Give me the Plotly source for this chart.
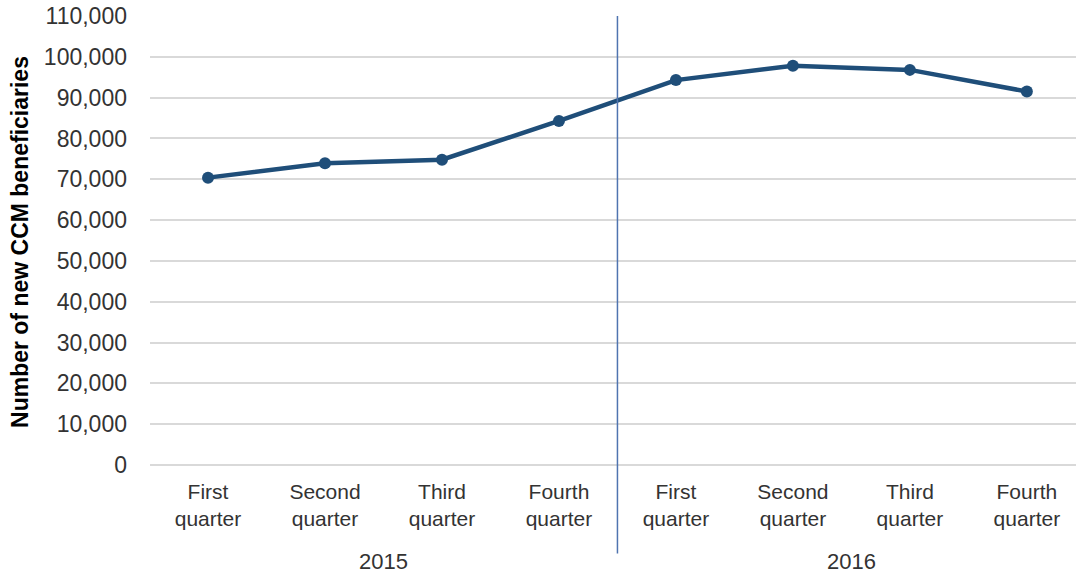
import plotly.graph_objects as go

quarters = ["First quarter", "Second quarter", "Third quarter", "Fourth quarter"]
years = ["2015", "2016"]
values = [70400, 73900, 74800, 84300, 94300, 97800, 96800, 91500]
y_ticks = list(range(0, 110001, 10000))

x_idx = list(range(len(years) * len(quarters)))
tick_text = [q.replace(" ", "<br>") for _ in years for q in quarters]

LINE = "#1F4E79"
TXT = "#333333"
FONT = "Liberation Sans, Arial, sans-serif"

fig = go.Figure()
fig.add_trace(go.Scatter(
    x=x_idx, y=values, mode="lines+markers",
    line=dict(color=LINE, width=4.5),
    marker=dict(color=LINE, size=12),
    showlegend=False, hoverinfo="y",
))

fig.update_layout(
    width=1076, height=577,
    margin=dict(l=150, r=0, t=16, b=112),
    paper_bgcolor="white", plot_bgcolor="white",
    font=dict(family=FONT, size=21, color=TXT),
    xaxis=dict(
        range=[-0.496, 7.42], tickmode="array", tickvals=x_idx, ticktext=tick_text,
        showgrid=False, zeroline=False, showline=False, ticks="",
        tickfont=dict(size=21, color=TXT), ticklabelstandoff=12,
    ),
    yaxis=dict(
        range=[0, 110000], tickmode="array", tickvals=y_ticks, tickformat=",",
        showgrid=True, gridcolor="#D9D9D9", gridwidth=1.5,
        zeroline=True, zerolinecolor="#D9D9D9", zerolinewidth=1.5,
        showline=False, ticks="", tickfont=dict(size=23, color=TXT),
        ticklabelstandoff=22,
    ),
)

# group divider between years
fig.add_shape(type="line", xref="x", yref="paper",
              x0=len(quarters) - 0.5, x1=len(quarters) - 0.5,
              y0=1.0, y1=-0.197, line=dict(color="#4F74B0", width=1.5))

# year labels
for i, yr in enumerate(years):
    center = i * len(quarters) + (len(quarters) - 1) / 2
    fig.add_annotation(x=center, xref="x", y=-0.216, yref="paper",
                       text=yr, showarrow=False, yanchor="middle",
                       font=dict(size=22, color=TXT, family=FONT))

# y axis title
fig.add_annotation(x=-0.1404, xref="paper", y=0.4967, yref="paper",
                   text="<b>Number of new CCM beneficiaries</b>", textangle=-90,
                   showarrow=False, xanchor="center", yanchor="middle",
                   font=dict(size=23, color="#000000", family=FONT))

fig.write_html("out.html")
